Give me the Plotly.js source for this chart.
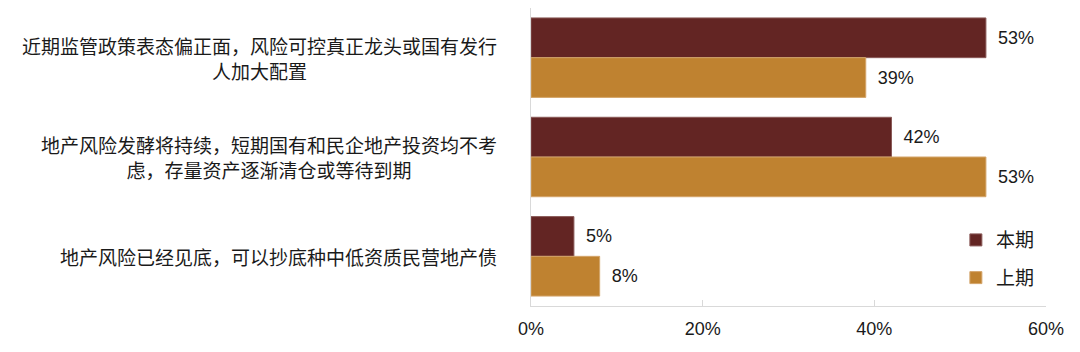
<!DOCTYPE html>
<html>
<head>
<meta charset="utf-8">
<script src="https://cdn.plot.ly/plotly-3.0.1.min.js"></script>
<style>html,body{margin:0;padding:0;background:#fff;}#chart{width:1080px;height:352px;}</style>
</head>
<body>
<div id="chart"></div>
<script>
const categories = [
  "近期监管政策表态偏正面，风险可控真正龙头或国有发行<br>人加大配置",
  "地产风险发酵将持续，短期国有和民企地产投资均不考<br>虑，存量资产逐渐清仓或等待到期",
  "地产风险已经见底，可以抄底种中低资质民营地产债"
];
const seriesNames = ["本期", "上期"];
const currentValues = [53, 42, 5];
const previousValues = [39, 53, 8];
const xTickVals = [0, 20, 40, 60];
const xTickText = ["0%", "20%", "40%", "60%"];

const FONT = "Liberation Sans, Arial, 'Noto Sans CJK SC', sans-serif";
const CJK = "'Noto Sans CJK SC', 'Liberation Sans', sans-serif";

function bar(name, vals, color, line, grp) {
  return {
    type: 'bar', orientation: 'h', name: name, legendgroup: grp,
    x: vals, y: categories,
    marker: {color: color, line: {color: line, width: 1}},
    text: vals.map(v => '\u2002' + v + '%'),
    textposition: 'outside',
    textfont: {family: FONT, size: 18, color: '#1a1a1a'},
    cliponaxis: false,
    hoverinfo: 'none'
  };
}

const data = [
  bar(seriesNames[0], currentValues, '#632523', '#8a5a58', 'a'),
  bar(seriesNames[1], previousValues, '#BF8230', '#d4a56a', 'b')
];

const annotations = categories.map(c => ({
  xref: 'paper', yref: 'y', x: 0, y: c, xshift: -32,
  xanchor: 'right', yanchor: 'middle', align: 'center',
  text: c, showarrow: false,
  font: {family: CJK, size: 19, color: '#1a1a1a'}
}));

const layout = {
  width: 1080, height: 352,
  margin: {l: 531, r: 34, t: 8, b: 46},
  paper_bgcolor: '#ffffff', plot_bgcolor: '#ffffff',
  barmode: 'group', bargap: 0.2, bargroupgap: 0,
  font: {family: FONT, size: 18, color: '#1a1a1a'},
  xaxis: {
    range: [0, 60], tickvals: xTickVals, ticktext: xTickText,
    showgrid: false, zeroline: false,
    showline: true, linecolor: '#d9d9d9', linewidth: 1,
    ticks: 'inside', ticklen: 6, tickcolor: '#d9d9d9',
    ticklabelstandoff: 6,
    tickfont: {family: FONT, size: 18, color: '#1a1a1a'},
    fixedrange: true
  },
  yaxis: {
    autorange: 'reversed', showticklabels: false,
    showgrid: false, zeroline: false,
    showline: true, linecolor: '#d9d9d9', linewidth: 1,
    ticks: '', fixedrange: true
  },
  showlegend: true,
  legend: {
    x: 0.825, y: 0.285, xanchor: 'left', yanchor: 'top',
    font: {family: CJK, size: 19, color: '#1a1a1a'},
    bgcolor: 'rgba(0,0,0,0)', itemwidth: 30,
    traceorder: 'grouped', tracegroupgap: 10
  },
  annotations: annotations
};

Plotly.newPlot('chart', data, layout, {displayModeBar: false, staticPlot: true});
</script>
</body>
</html>
